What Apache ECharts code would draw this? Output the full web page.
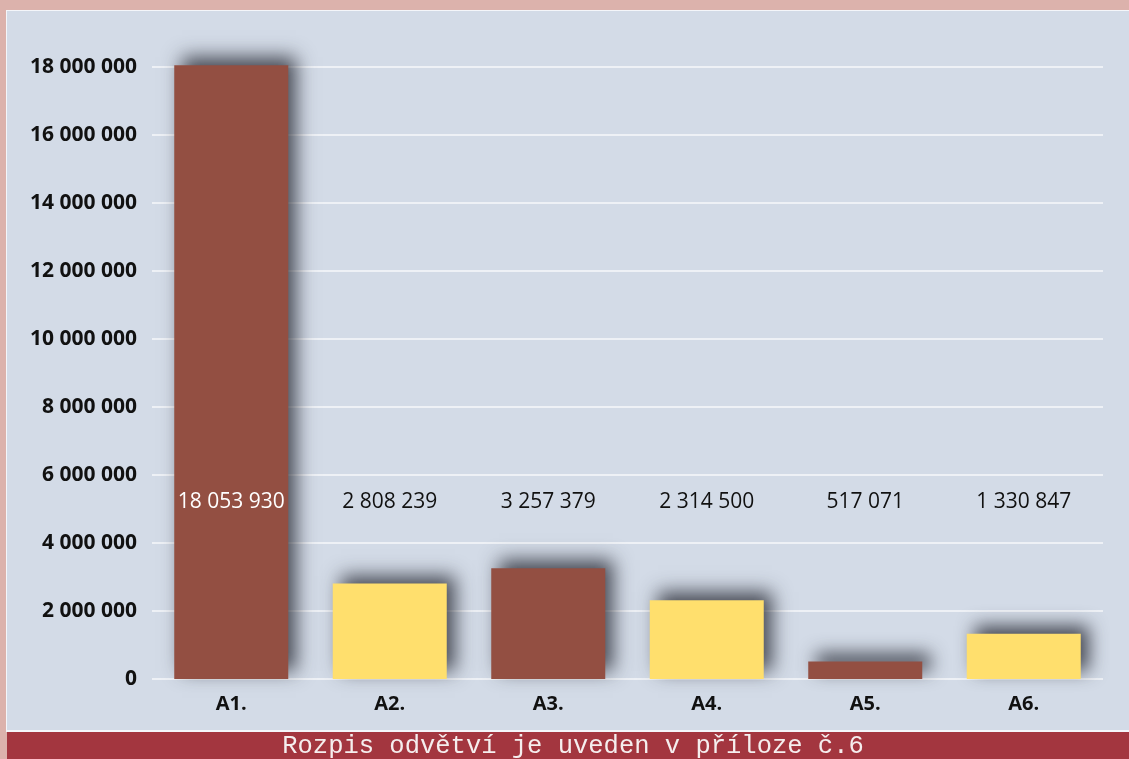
<!DOCTYPE html>
<html lang="cs">
<head>
    <meta charset="UTF-8">
    <script src="https://cdn.jsdelivr.net/npm/echarts@6/dist/echarts.min.js"></script>
    <style type="text/css">
        html, body, #main {
            height: 100%;
            width: 100%;
            margin: 0;
            padding: 0
        }
    </style>
    <title>Rozpis odvětví</title>
</head>
<body>
<div id="main"></div>
<script>
    // data
    var categories = ['A1.', 'A2.', 'A3.', 'A4.', 'A5.', 'A6.'];
    var values = [18053930, 2808239, 3257379, 2314500, 517071, 1330847];
    var barColors = ['#934f42', '#ffdf6d', '#934f42', '#ffdf6d', '#934f42', '#ffdf6d'];
    var labelColors = ['#ffffff', '#111111', '#111111', '#111111', '#111111', '#111111'];
    // value labels all sit on one line across the chart
    var labelLevel = 5200000;
    var footnote = 'Rozpis odvětví je uveden v příloze č.6';

    function spaced(v) {
        return String(v).replace(/\B(?=(\d{3})+(?!\d))/g, ' ');
    }

    var myChart = echarts.init(document.getElementById('main'));

    option = {
        backgroundColor: '#dcb2ac',
        animation: false,
        textStyle: {fontFamily: 'Open Sans'},
        graphic: [
            {type: 'rect', z: -10, shape: {x: 6, y: 10, width: 1123, height: 722}, style: {fill: '#f4f6fa'}},
            {type: 'rect', z: -10, shape: {x: 7, y: 11, width: 1122, height: 719}, style: {fill: '#d3dbe7'}},
            {type: 'rect', z: -10, shape: {x: 7, y: 732, width: 1122, height: 27}, style: {fill: '#a3363f'}},
            {
                type: 'text', z: 10, x: 573, y: 746,
                style: {
                    text: footnote, fill: '#f5eeee', font: '25.5px "Liberation Mono"',
                    textAlign: 'center', textVerticalAlign: 'middle'
                }
            }
        ],
        grid: {left: 152, right: 26, top: 67, bottom: 80},
        xAxis: {
            type: 'category',
            data: categories,
            axisLine: {show: false},
            axisTick: {show: false},
            axisLabel: {fontWeight: 'bold', fontSize: 20, color: '#111', margin: 15}
        },
        yAxis: {
            type: 'value',
            min: 0,
            max: 18000000,
            interval: 2000000,
            axisLine: {show: false},
            axisTick: {show: false},
            splitLine: {lineStyle: {color: '#eef1f6', width: 2}},
            axisLabel: {
                fontWeight: 'bold', fontSize: 21, color: '#111', margin: 15,
                formatter: spaced
            }
        },
        series: [
            {
                type: 'bar',
                clip: false,
                barWidth: 114,
                data: values.map(function (v, i) {
                    return {
                        value: v,
                        itemStyle: {
                            color: barColors[i],
                            shadowColor: 'rgba(35, 38, 48, 0.8)',
                            shadowBlur: 18,
                            shadowOffsetX: 8,
                            shadowOffsetY: -8
                        }
                    };
                })
            },
            {
                type: 'scatter',
                symbolSize: 1,
                itemStyle: {color: 'transparent', opacity: 1},
                z: 5,
                data: values.map(function (v, i) {
                    return {
                        value: labelLevel,
                        label: {
                            show: true,
                            position: 'inside',
                            fontSize: 21,
                            color: labelColors[i],
                            formatter: function () {
                                return spaced(v);
                            }
                        }
                    };
                })
            }
        ]
    };

    myChart.setOption(option);
</script>
</body>
</html>
